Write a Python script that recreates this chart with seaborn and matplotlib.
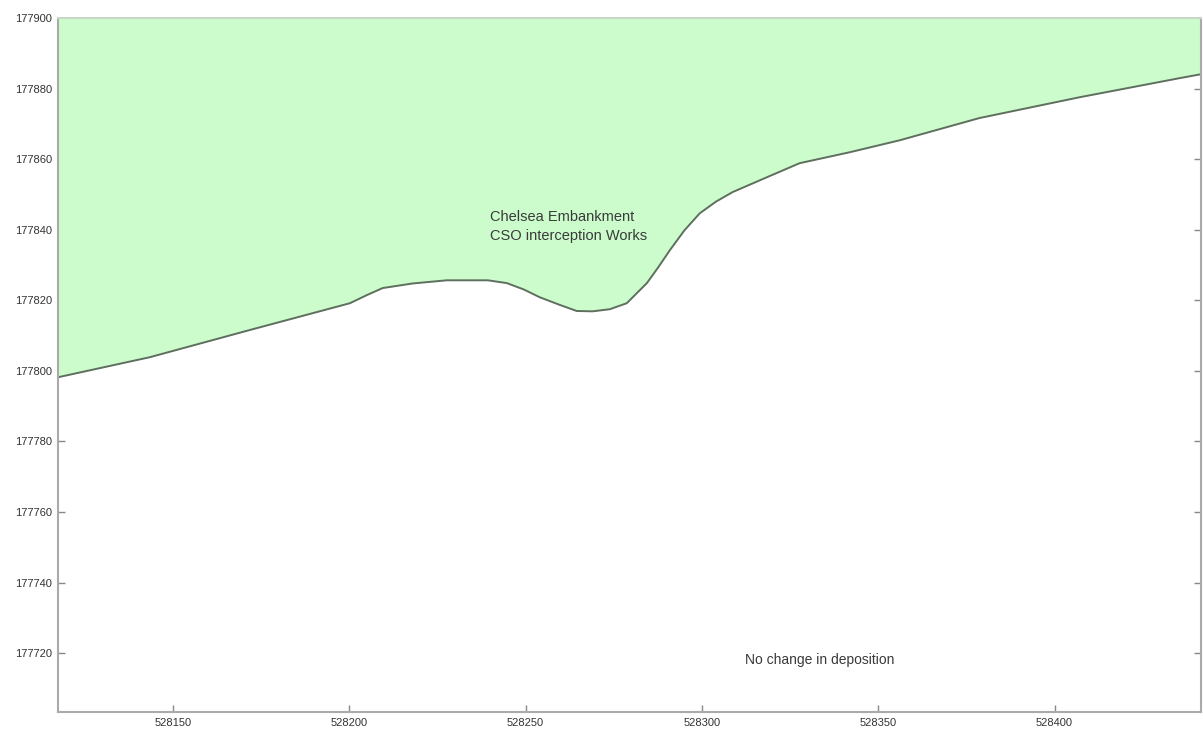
import matplotlib
matplotlib.use("Agg")
import matplotlib.pyplot as plt
import seaborn as sns
import pandas as pd

# --- boundary of the deposition change area (easting / northing) ---
easting = [528117.4, 528143.5, 528171.8, 528200.2, 528205.0, 528209.5, 528218.0,
           528227.7, 528239.3, 528244.7, 528249.5, 528254.0, 528259.5, 528264.5,
           528269.0, 528273.9, 528278.7, 528284.4, 528287.5, 528290.9, 528295.0,
           528299.4, 528304.0, 528308.7, 528318.4, 528327.7, 528341.9, 528356.1,
           528378.7, 528407.1, 528435.4, 528441.4]
northing = [177798.2, 177803.9, 177811.6, 177819.2, 177821.5, 177823.5, 177824.8,
            177825.7, 177825.7, 177824.9, 177823.1, 177820.9, 177818.8, 177817.0,
            177816.9, 177817.5, 177819.2, 177824.9, 177829.2, 177834.2, 177839.8,
            177844.7, 177848.0, 177850.7, 177854.9, 177858.9, 177862.0, 177865.4,
            177871.7, 177877.6, 177883.0, 177884.1]

x_ticks = [528150, 528200, 528250, 528300, 528350, 528400]
y_ticks = [177720, 177740, 177760, 177780, 177800, 177820, 177840, 177860, 177880, 177900]

label_works = "Chelsea Embankment\nCSO interception Works"
label_none = "No change in deposition"

x_lim = (528117.3, 528441.4)
y_lim = (177703.3, 177900)

df = pd.DataFrame({"easting": easting, "northing": northing})

sns.set_style("white")
plt.rcParams["font.family"] = ["Liberation Sans", "DejaVu Sans"]

fig = plt.figure(figsize=(12.03, 7.29), dpi=100)
ax = fig.add_axes([0.0478, 0.0233, 0.9502, 0.9517])

# --- filled area above the boundary ---
ax.fill_between(df["easting"], df["northing"], y_lim[1], color="#ccfccc", lw=0)
sns.lineplot(data=df, x="easting", y="northing", ax=ax, color="#5f6f5f",
             lw=1.4, sort=False)

ax.text(528239.9, 177841.0, label_works, fontsize=10.5, color="#3a3a3a",
        va="center", ha="left", linespacing=1.45)
ax.text(528312.1, 177718.0, label_none, fontsize=10, color="#3a3a3a",
        va="center", ha="left")

ax.set_xlim(*x_lim)
ax.set_ylim(*y_lim)
ax.set_xticks(x_ticks)
ax.set_yticks(y_ticks)
ax.set_xticklabels([str(v) for v in x_ticks])
ax.set_yticklabels([str(v) for v in y_ticks])
ax.set_xlabel("")
ax.set_ylabel("")

ax.tick_params(direction="in", length=5, width=1, color="#888888",
               labelsize=8, labelcolor="#333333", pad=4,
               right=True, left=True, bottom=True)
for side, sp in ax.spines.items():
    sp.set_color("#aaaaaa")
    sp.set_linewidth(1.5)
ax.spines["top"].set_color("#c8d8c8")

fig.savefig("out.png", dpi=100)
